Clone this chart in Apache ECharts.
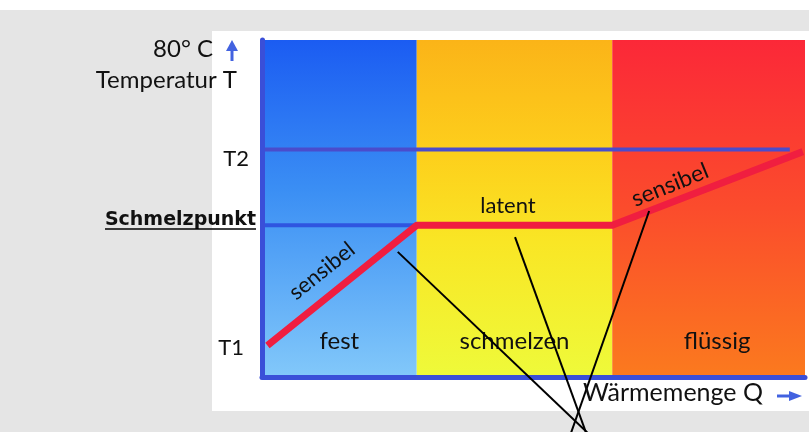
<!DOCTYPE html>
<html>
<head>
<meta charset="utf-8">
<script src="https://cdn.jsdelivr.net/npm/echarts@6/dist/echarts.min.js"></script>
<style>
html,body{margin:0;padding:0;background:#fff;}
#chart{width:809px;height:432px;}
</style>
</head>
<body>
<div id="chart"></div>
<script>
// ---- data ----
const phaseNames = ['fest', 'schmelzen', 'flüssig'];
const phaseBounds = [0, 28.5, 64.5, 100];          // Wärmemenge Q (relative)
const tempTickValues = [7.5, 36, 54];              // T1, Schmelzpunkt, T2
const tempTickLabels = ['T1', 'Schmelzpunkt', 'T2'];
const heatQ = [1, 28.5, 64.5, 99.6];                // heating curve
const heatT = [7.5, 36, 36, 53.5];
const meltLineQ = [0, 28.5];
const t2LineQ = [0, 97.2];
const pointerStartQ = [25.0, 46.6, 71.3];
const pointerStartT = [29.7, 33.2, 39.4];
const pointerEndQ = [60.0, 59.7, 56.9];
const pointerEndT = [-13.3, -13.3, -13.3];

const chart = echarts.init(document.getElementById('chart'), null, {renderer: 'canvas'});
const G = echarts.graphic.LinearGradient;
const phaseFills = [
  new G(0, 0, 0, 1, [{offset: 0, color: '#1b5cf2'}, {offset: 0.45, color: '#3b8ff4'}, {offset: 1, color: '#82c8fa'}]),
  new G(0, 0, 0, 1, [{offset: 0, color: '#fbb418'}, {offset: 0.35, color: '#fdd01c'}, {offset: 0.6, color: '#f9e625'}, {offset: 1, color: '#eefa3a'}]),
  new G(0, 0, 0, 1, [{offset: 0, color: '#fb2838'}, {offset: 0.5, color: '#fb4c2c'}, {offset: 1, color: '#fb7a1e'}])
];
const phaseLabelPad = [[0, 0, 0, 0], [0, 0, 0, 0], [0, 0, 0, 17]];
const FUT = 'Lato';
const axisBlue = '#3a4fd8';

const markAreaData = phaseNames.map((n, i) => [
  {xAxis: phaseBounds[i], name: n, itemStyle: {color: phaseFills[i]}, label: {padding: phaseLabelPad[i]}},
  {xAxis: phaseBounds[i + 1]}
]);

const pointerSeries = pointerStartQ.map((q, i) => ({
  type: 'line', clip: false, z: 20, symbol: 'none', silent: true,
  data: [[q, pointerStartT[i]], [pointerEndQ[i], pointerEndT[i]]],
  lineStyle: {color: '#000', width: 2}
}));

const labelStyles = ['t1', 'sp', 't2'];

chart.setOption({
  backgroundColor: '#ffffff',
  animation: false,
  grid: {left: 262, top: 40, width: 543, height: 337},
  xAxis: {
    type: 'value', min: 0, max: 100, z: 10,
    axisLine: {show: true, lineStyle: {color: axisBlue, width: 5}},
    axisTick: {show: false}, axisLabel: {show: false}, splitLine: {show: false}
  },
  yAxis: {
    type: 'value', min: 0, max: 80, z: 10,
    axisLine: {show: true, lineStyle: {color: axisBlue, width: 5}},
    axisTick: {show: false}, splitLine: {show: false},
    axisLabel: {
      show: true, margin: 6, customValues: tempTickValues,
      formatter: function (v) {
        const i = tempTickValues.indexOf(v);
        return i < 0 ? '' : '{' + labelStyles[i] + '|' + tempTickLabels[i] + '}';
      },
      rich: {
        t1: {fontFamily: FUT, fontSize: 22, color: '#111', padding: [4, 12, 0, 0]},
        sp: {fontFamily: 'DejaVu Sans', fontWeight: 'bold', fontSize: 19, color: '#111', padding: [0, 0, 11, 0]},
        t2: {fontFamily: FUT, fontSize: 22, color: '#111', padding: [18, 7, 0, 0]}
      }
    }
  },
  graphic: [
    {type: 'rect', z: -10, silent: true, shape: {x: 0, y: 10, width: 809, height: 422}, style: {fill: '#e5e5e5'}},
    {type: 'rect', z: -9, silent: true, shape: {x: 212, y: 31, width: 597, height: 380}, style: {fill: '#ffffff'}},
    {type: 'text', z: 50, x: 213, y: 49, style: {text: '80° C', font: '24px Lato', fill: '#111', align: 'right', verticalAlign: 'middle'}},
    {type: 'text', z: 50, x: 237, y: 80, style: {text: 'Temperatur T', font: '24px Lato', fill: '#111', align: 'right', verticalAlign: 'middle'}},
    {type: 'polygon', z: 50, shape: {points: [[226, 51], [232, 40], [238, 51]]}, style: {fill: '#4262e0'}},
    {type: 'rect', z: 50, shape: {x: 230.5, y: 49, width: 3, height: 12}, style: {fill: '#4262e0'}},
    {type: 'line', z: 50, shape: {x1: 105, y1: 229, x2: 256, y2: 229}, style: {stroke: '#000', lineWidth: 1.5}},
    {type: 'text', z: 50, x: 508, y: 206, style: {text: 'latent', font: '22px Lato', fill: '#111', align: 'center', verticalAlign: 'middle'}},
    {type: 'text', z: 50, x: 322, y: 271, rotation: 38.8 * Math.PI / 180, style: {text: 'sensibel', font: '22px Lato', fill: '#111', align: 'center', verticalAlign: 'middle'}},
    {type: 'text', z: 50, x: 670, y: 185, rotation: 22 * Math.PI / 180, style: {text: 'sensibel', font: '23px Lato', fill: '#111', align: 'center', verticalAlign: 'middle'}},
    {type: 'text', z: 50, x: 673, y: 393, style: {text: 'Wärmemenge Q', font: '25px Lato', fill: '#111', align: 'center', verticalAlign: 'middle'}},
    {type: 'rect', z: 50, shape: {x: 777, y: 394.5, width: 15, height: 3}, style: {fill: '#4262e0'}},
    {type: 'polygon', z: 50, shape: {points: [[789, 391], [802, 396], [789, 401]]}, style: {fill: '#4262e0'}}
  ],
  series: [
    {
      type: 'line', data: [], z: 1, silent: true,
      markArea: {
        silent: true,
        label: {show: true, position: 'insideBottom', distance: 24, fontFamily: FUT, fontSize: 24, color: '#111'},
        data: markAreaData
      }
    },
    {
      type: 'line', z: 3, symbol: 'none', silent: true,
      data: meltLineQ.map(q => [q, tempTickValues[1]]),
      lineStyle: {color: '#2f55e0', width: 4}
    },
    {
      type: 'line', z: 3, symbol: 'none', silent: true,
      data: t2LineQ.map(q => [q, tempTickValues[2]]),
      lineStyle: {color: '#4a4ccc', width: 4}
    },
    {
      type: 'line', z: 4, symbol: 'none', silent: true,
      data: heatQ.map((q, i) => [q, heatT[i]]),
      lineStyle: {color: '#f01e40', width: 7, join: 'round'}
    }
  ].concat(pointerSeries)
});
</script>
</body>
</html>
